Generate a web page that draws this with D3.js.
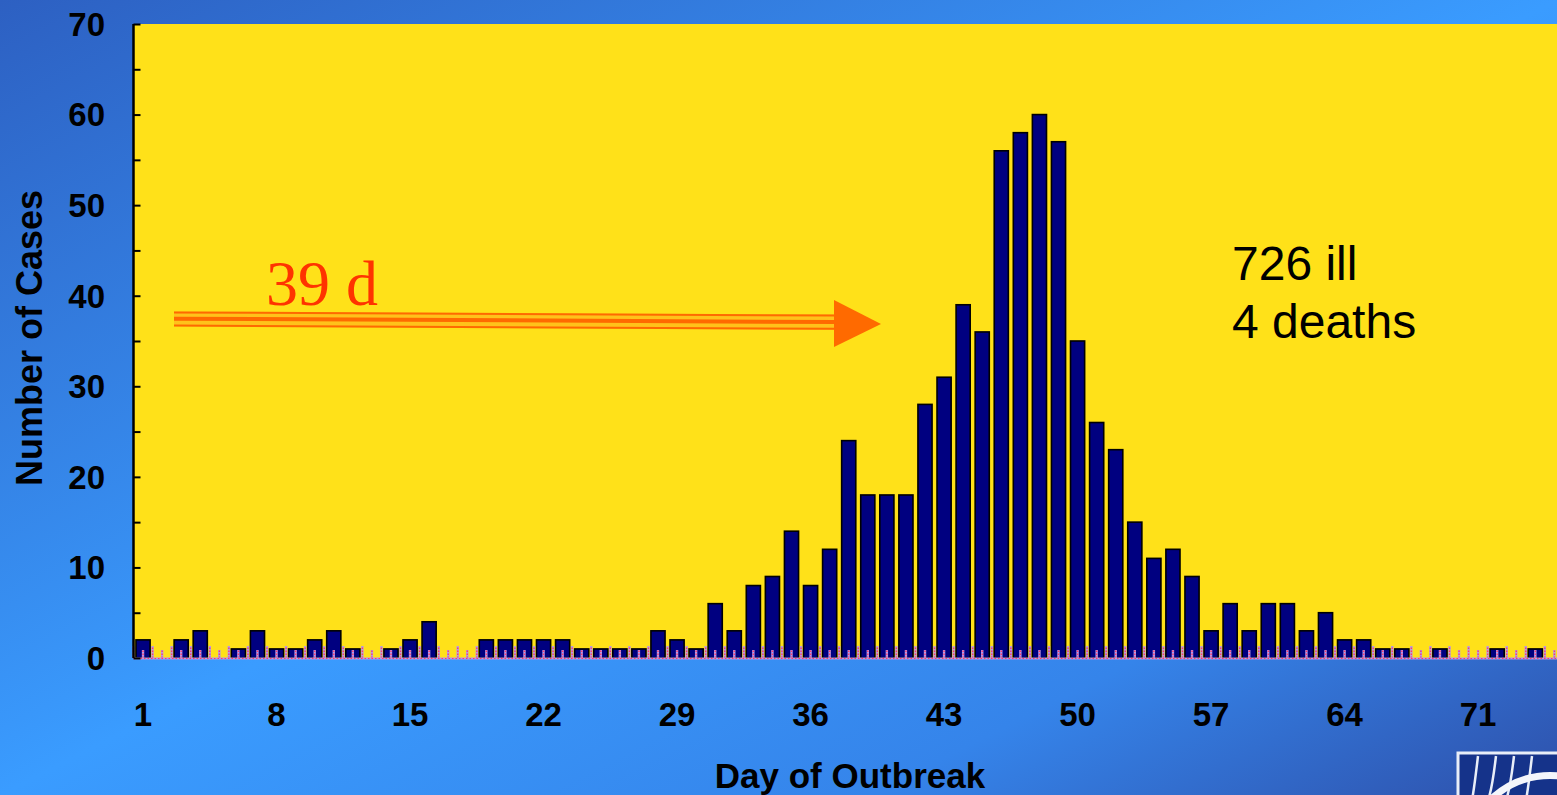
<!DOCTYPE html>
<html>
<head>
<meta charset="utf-8">
<script src="https://cdn.jsdelivr.net/npm/d3@7"></script>
<style>
  html, body { margin: 0; padding: 0; overflow: hidden; }
  svg { display: block; }
</style>
</head>
<body>
<svg id="chart" width="1557" height="795"></svg>
<script>
// ---- data ----
const days = d3.range(1, 77);                 // Day of Outbreak 1..76 (last ones run off the right edge)
const cases = [
  2, 0, 2, 3, 0, 1, 3, 1, 1, 2,               // days 1-10
  3, 1, 0, 1, 2, 4, 0, 0, 2, 2,               // 11-20
  2, 2, 2, 1, 1, 1, 1, 3, 2, 1,               // 21-30
  6, 3, 8, 9, 14, 8, 12, 24, 18, 18,          // 31-40
  18, 28, 31, 39, 36, 56, 58, 60, 57, 35,     // 41-50
  26, 23, 15, 11, 12, 9, 3, 6, 3, 6,          // 51-60
  6, 3, 5, 2, 2, 1, 1, 0, 1, 0,               // 61-70
  0, 1, 0, 1, 0, 0                            // 71-76
];
const xTickLabels = [1, 8, 15, 22, 29, 36, 43, 50, 57, 64, 71];
const yTicks = [0, 5, 10, 15, 20, 25, 30, 35, 40, 45, 50, 55, 60, 65, 70];
const yTickLabels = [0, 10, 20, 30, 40, 50, 60, 70];
const xTitle = "Day of Outbreak";
const yTitle = "Number of Cases";
const arrowLabel = "39 d";
const noteLines = ["726 ill", "4 deaths"];

// ---- layout ----
const svg = d3.select("#chart");
const W = 1557, H = 795;
const plot = { left: 133.5, top: 24, bottom: 658, right: 1583 };

const defs = svg.append("defs");
const bg = defs.append("linearGradient").attr("id", "bg")
  .attr("x1", 0).attr("y1", 0).attr("x2", 1).attr("y2", 1);
bg.append("stop").attr("offset", 0).attr("stop-color", "#2d60c2");
bg.append("stop").attr("offset", 0.5).attr("stop-color", "#3a9cff");
bg.append("stop").attr("offset", 0.78).attr("stop-color", "#3584ea");
bg.append("stop").attr("offset", 1).attr("stop-color", "#2e50aa");

svg.append("rect").attr("width", W).attr("height", H).attr("fill", "url(#bg)");

// plot background
svg.append("rect")
  .attr("x", plot.left).attr("y", plot.top)
  .attr("width", plot.right - plot.left).attr("height", plot.bottom - plot.top)
  .attr("fill", "#ffe119");

const x = d3.scaleBand().domain(days).range([plot.left, plot.right])
  .paddingInner(0.26).paddingOuter(0.13);
const y = d3.scaleLinear().domain([0, 70]).range([plot.bottom, plot.top]);

// bars
svg.append("g").selectAll("rect")
  .data(days.map((d, i) => ({ day: d, v: cases[i] })).filter(d => d.v > 0))
  .join("rect")
  .attr("x", d => x(d.day))
  .attr("y", d => y(d.v))
  .attr("width", x.bandwidth())
  .attr("height", d => y(0) - y(d.v))
  .attr("fill", "#000080")
  .attr("stroke", "#000")
  .attr("stroke-width", 1.6);

// pink/lavender minor marks along the baseline
const marks = svg.append("g");
const step = x.step();
days.forEach(d => {
  const c = x(d) + x.bandwidth() / 2;
  const b = c - step / 2;
  [[b, 12], [c, 8]].forEach(([px, h]) => {
    marks.append("line").attr("x1", px).attr("x2", px)
      .attr("y1", y(0)).attr("y2", y(0) - h)
      .attr("stroke", "#b49ae8").attr("stroke-width", 2.4);
    marks.append("line").attr("x1", px).attr("x2", px)
      .attr("y1", y(0)).attr("y2", y(0) - h)
      .attr("stroke", "#ff3a6a").attr("stroke-width", 1.4)
      .attr("stroke-dasharray", "1.5,1.5");
  });
});
marks.append("line").attr("x1", plot.left).attr("x2", W)
  .attr("y1", y(0) + 0.5).attr("y2", y(0) + 0.5)
  .attr("stroke", "#b49ae8").attr("stroke-width", 2);
marks.append("line").attr("x1", plot.left).attr("x2", W)
  .attr("y1", y(0) + 0.5).attr("y2", y(0) + 0.5)
  .attr("stroke", "#ff3a6a").attr("stroke-width", 1).attr("stroke-dasharray", "1.5,2");

// y axis (ticks pointing inward)
const yAxis = d3.axisRight(y).tickValues(yTicks).tickSize(7).tickFormat("");
const yg = svg.append("g").attr("transform", `translate(${plot.left},0)`).call(yAxis);
yg.select(".domain").attr("stroke", "#000").attr("stroke-width", 2.5)
  .attr("d", `M0,${plot.top}V${plot.bottom}`);
yg.selectAll(".tick line").attr("stroke", "#000").attr("stroke-width", 2);

svg.append("g").selectAll("text").data(yTickLabels).join("text")
  .attr("x", 105).attr("y", d => y(d))
  .attr("dy", "0.36em")
  .attr("text-anchor", "end")
  .attr("font-family", "Liberation Sans, Arial, sans-serif")
  .attr("font-weight", "bold").attr("font-size", 33)
  .attr("fill", "#000")
  .text(d => d);

// x tick labels
svg.append("g").selectAll("text").data(xTickLabels).join("text")
  .attr("x", d => x(d) + x.bandwidth() / 2)
  .attr("y", 726)
  .attr("text-anchor", "middle")
  .attr("font-family", "Liberation Sans, Arial, sans-serif")
  .attr("font-weight", "bold").attr("font-size", 33)
  .attr("fill", "#000")
  .text(d => d);

// axis titles
svg.append("text")
  .attr("x", 850).attr("y", 788)
  .attr("text-anchor", "middle")
  .attr("font-family", "Liberation Sans, Arial, sans-serif")
  .attr("font-weight", "bold").attr("font-size", 35)
  .attr("fill", "#000")
  .text(xTitle);

svg.append("text")
  .attr("transform", "translate(42,338) rotate(-90)")
  .attr("text-anchor", "middle")
  .attr("font-family", "Liberation Sans, Arial, sans-serif")
  .attr("font-weight", "bold").attr("font-size", 36)
  .attr("fill", "#000")
  .text(yTitle);

// arrow annotation
const ar = svg.append("g");
ar.append("polygon")
  .attr("points", "174,311.5 836,314.5 836,330 174,326.5")
  .attr("fill", "#ffc21a");
[[312.5, 315.5, 2], [318.7, 322, 4], [325.5, 328.8, 2]].forEach(([y1, y2, w]) => {
  ar.append("line").attr("x1", 174).attr("y1", y1).attr("x2", 836).attr("y2", y2)
    .attr("stroke", "#ff6a00").attr("stroke-width", w);
});
ar.append("polygon")
  .attr("points", "834,300 881,324 834,347")
  .attr("fill", "#ff6a00");
ar.append("text")
  .attr("x", 266).attr("y", 305)
  .attr("font-family", "Liberation Serif, Times New Roman, serif")
  .attr("font-size", 64)
  .attr("fill", "#ff3300")
  .text(arrowLabel);

// note
svg.append("g").selectAll("text").data(noteLines).join("text")
  .attr("x", 1232).attr("y", (d, i) => 280 + i * 58)
  .attr("font-family", "Liberation Sans, Arial, sans-serif")
  .attr("font-size", 48)
  .attr("fill", "#000")
  .text(d => d);

// partial logo, bottom-right corner
const logo = svg.append("g");
logo.append("rect").attr("x", 1458).attr("y", 753).attr("width", 110).attr("height", 60)
  .attr("fill", "#15338a").attr("stroke", "#e8eef8").attr("stroke-width", 3);
[[1478, 1472], [1496, 1488], [1514, 1506], [1532, 1526]].forEach(([a, b]) => {
  logo.append("path").attr("d", `M${a},756 Q${a - 4},790 ${b},800`)
    .attr("fill", "none").attr("stroke", "#e8eef8").attr("stroke-width", 2.5);
});
logo.append("path").attr("d", "M1490,800 Q1520,772 1560,776")
  .attr("fill", "none").attr("stroke", "#f4f6fb").attr("stroke-width", 7);
</script>
</body>
</html>
